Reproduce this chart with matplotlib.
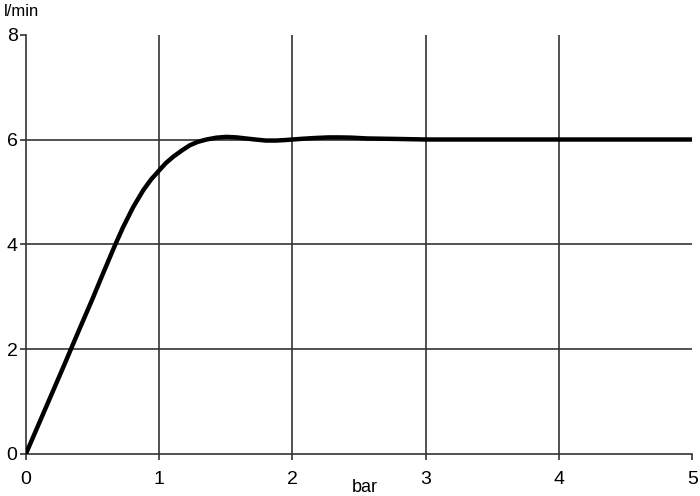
import matplotlib
matplotlib.use("Agg")
import matplotlib.pyplot as plt

plt.rcParams["font.family"] = ["Liberation Sans", "DejaVu Sans"]

# flow curve (pressure in bar -> flow in l/min)
pressure = [0.0, 0.1, 0.2, 0.3, 0.338, 0.4, 0.5, 0.58, 0.668, 0.73, 0.805,
            0.88, 0.94, 1.0, 1.05, 1.105, 1.17, 1.23, 1.29, 1.355, 1.43,
            1.505, 1.58, 1.65, 1.72, 1.8, 1.88, 1.95, 2.0, 2.08, 2.18,
            2.27, 2.355, 2.45, 2.56, 2.68, 2.8, 2.9, 3.0, 3.5, 4.0, 4.5, 5.0]
flow = [0.0, 0.59, 1.18, 1.77, 2.0, 2.37, 2.96, 3.45, 3.98, 4.33, 4.71,
        5.03, 5.24, 5.41, 5.55, 5.67, 5.79, 5.89, 5.955, 6.0, 6.035,
        6.05, 6.04, 6.02, 6.0, 5.98, 5.98, 5.99, 6.0, 6.015, 6.03,
        6.04, 6.04, 6.035, 6.02, 6.015, 6.01, 6.005, 6.0, 6.0, 6.0, 6.0, 6.0]

x_ticks = [0, 1, 2, 3, 4, 5]
y_ticks = [0, 2, 4, 6, 8]

fig = plt.figure(figsize=(7.0, 4.96), dpi=100)
ax = fig.add_axes([0.037, 0.085, 0.952, 0.845])

grid_kw = dict(color="#333333", linewidth=1.2, zorder=1)
for xv in x_ticks[1:-1]:
    ax.axvline(xv, **grid_kw)
for yv in y_ticks[1:-1]:
    ax.axhline(yv, **grid_kw)

ax.plot(pressure, flow, color="black", linewidth=3.2, solid_capstyle="round",
        solid_joinstyle="round", zorder=3)

ax.set_xlim(0, 5)
ax.set_ylim(0, 8)
ax.set_xticks(x_ticks)
ax.set_yticks(y_ticks)
ax.tick_params(labelsize=14, length=4, width=1.2, color="#333333")
ax.tick_params(axis="x", pad=8)
ax.tick_params(axis="y", pad=2)
for side in ("top", "right"):
    ax.spines[side].set_visible(False)
for side in ("left", "bottom"):
    ax.spines[side].set_color("#333333")
    ax.spines[side].set_linewidth(1.2)

fig.text(0.006, 0.976, "l/min", fontsize=12, va="center", ha="left")
fig.text(0.503, 0.018, "bar", fontsize=13, va="center", ha="left")

fig.savefig("out.png", dpi=100)
